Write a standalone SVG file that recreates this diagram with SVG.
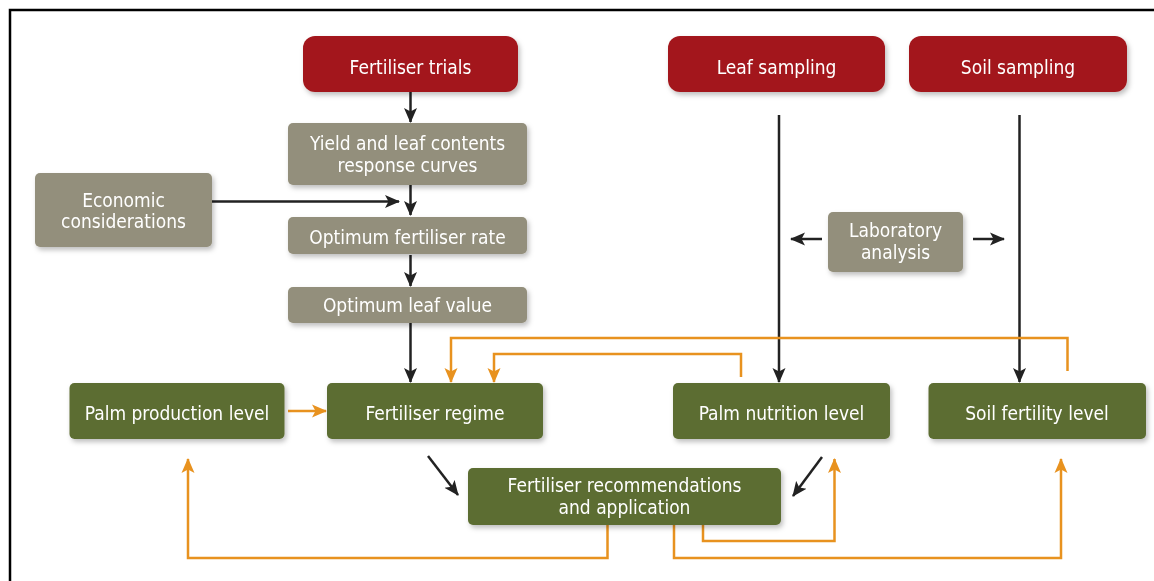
<svg xmlns="http://www.w3.org/2000/svg" width="1154" height="581" viewBox="0 0 1154 581">
<defs>
<style>
.txt{font-family:"DejaVu Sans Condensed","Liberation Sans Narrow","Liberation Sans",sans-serif;font-size:19px;fill:#ffffff;text-anchor:middle}
.red{fill:#a3191d}
.gray{fill:#938f7b}
.green{fill:#5c6d31}
.blk{stroke:#222222;stroke-width:2.5;fill:none}
.org{stroke:#e8921f;stroke-width:2.5;fill:none}
</style>
<filter id="sh" x="-10%" y="-20%" width="130%" height="150%">
<feDropShadow dx="2" dy="3" stdDeviation="2.5" flood-color="#000" flood-opacity="0.25"/>
</filter>
<marker id="ab" markerUnits="userSpaceOnUse" markerWidth="16" markerHeight="14" refX="14" refY="7" orient="auto">
<path d="M0,0.5 L15,7 L0,13.5 L3.5,7 z" fill="#222222"/>
</marker>
<marker id="ao" markerUnits="userSpaceOnUse" markerWidth="16" markerHeight="14" refX="14" refY="7" orient="auto">
<path d="M0,0.5 L15,7 L0,13.5 L3.5,7 z" fill="#e8921f"/>
</marker>
</defs>
<rect width="1154" height="581" fill="#ffffff"/>
<path d="M10,581 V10 H1154" stroke="#000" stroke-width="2.5" fill="none"/>

<g id="connectors">
<line class="blk" x1="410.5" y1="92" x2="410.5" y2="122" marker-end="url(#ab)"/>
<line class="blk" x1="410.5" y1="185" x2="410.5" y2="215" marker-end="url(#ab)"/>
<line class="blk" x1="212" y1="201.5" x2="399" y2="201.5" marker-end="url(#ab)"/>
<line class="blk" x1="410.5" y1="255" x2="410.5" y2="286" marker-end="url(#ab)"/>
<line class="blk" x1="410.5" y1="323" x2="410.5" y2="382" marker-end="url(#ab)"/>
<line class="blk" x1="779" y1="115" x2="779" y2="382" marker-end="url(#ab)"/>
<line class="blk" x1="1019.5" y1="115" x2="1019.5" y2="382" marker-end="url(#ab)"/>
<line class="blk" x1="822" y1="239" x2="791" y2="239" marker-end="url(#ab)"/>
<line class="blk" x1="973" y1="239" x2="1004" y2="239" marker-end="url(#ab)"/>
<line class="blk" x1="428" y1="456" x2="458" y2="495" marker-end="url(#ab)"/>
<line class="blk" x1="822" y1="457" x2="793" y2="496" marker-end="url(#ab)"/>
<line class="org" x1="288" y1="411" x2="326" y2="411" marker-end="url(#ao)"/>
<path class="org" d="M1067.5,371 V338 H451 V382" marker-end="url(#ao)"/>
<path class="org" d="M741,377 V354 H494 V382" marker-end="url(#ao)"/>
<path class="org" d="M607.5,525 V558 H188 V459" marker-end="url(#ao)"/>
<path class="org" d="M703,525 V541 H834.5 V459" marker-end="url(#ao)"/>
<path class="org" d="M674,525 V558 H1061 V459" marker-end="url(#ao)"/>
</g>

<g id="fertiliser-trials" filter="url(#sh)">
<rect class="red" x="303" y="36" width="215" height="56" rx="12"/>
<text class="txt" x="410.5" y="74">Fertiliser trials</text>
</g>
<g id="leaf-sampling" filter="url(#sh)">
<rect class="red" x="668" y="36" width="217" height="56" rx="12"/>
<text class="txt" x="776.5" y="74">Leaf sampling</text>
</g>
<g id="soil-sampling" filter="url(#sh)">
<rect class="red" x="909" y="36" width="218" height="56" rx="12"/>
<text class="txt" x="1018" y="74">Soil sampling</text>
</g>
<g id="yield-curves" filter="url(#sh)">
<rect class="gray" x="288" y="123" width="239" height="62" rx="5"/>
<text class="txt" x="407.5" y="150">Yield and leaf contents</text>
<text class="txt" x="407.5" y="172">response curves</text>
</g>
<g id="economic" filter="url(#sh)">
<rect class="gray" x="35" y="173" width="177" height="74" rx="5"/>
<text class="txt" x="123.5" y="207">Economic</text>
<text class="txt" x="123.5" y="228">considerations</text>
</g>
<g id="optimum-rate" filter="url(#sh)">
<rect class="gray" x="288" y="217" width="239" height="37" rx="5"/>
<text class="txt" x="407.5" y="244">Optimum fertiliser rate</text>
</g>
<g id="optimum-leaf" filter="url(#sh)">
<rect class="gray" x="288" y="287" width="239" height="36" rx="5"/>
<text class="txt" x="407.5" y="312">Optimum leaf value</text>
</g>
<g id="laboratory" filter="url(#sh)">
<rect class="gray" x="828" y="212" width="135" height="60" rx="5"/>
<text class="txt" x="895.5" y="237">Laboratory</text>
<text class="txt" x="895.5" y="259">analysis</text>
</g>
<g id="palm-production" filter="url(#sh)">
<rect class="green" x="69.5" y="383" width="215" height="56" rx="5"/>
<text class="txt" x="177" y="420">Palm production level</text>
</g>
<g id="fertiliser-regime" filter="url(#sh)">
<rect class="green" x="327" y="383" width="216" height="56" rx="5"/>
<text class="txt" x="435" y="420">Fertiliser regime</text>
</g>
<g id="palm-nutrition" filter="url(#sh)">
<rect class="green" x="673" y="383" width="217" height="56" rx="5"/>
<text class="txt" x="781.5" y="420">Palm nutrition level</text>
</g>
<g id="soil-fertility" filter="url(#sh)">
<rect class="green" x="928.5" y="383" width="217.5" height="56" rx="5"/>
<text class="txt" x="1037" y="420">Soil fertility level</text>
</g>
<g id="recommendations" filter="url(#sh)">
<rect class="green" x="468" y="468" width="313" height="57" rx="5"/>
<text class="txt" x="624.5" y="492">Fertiliser recommendations</text>
<text class="txt" x="624.5" y="514">and application</text>
</g>
</svg>
